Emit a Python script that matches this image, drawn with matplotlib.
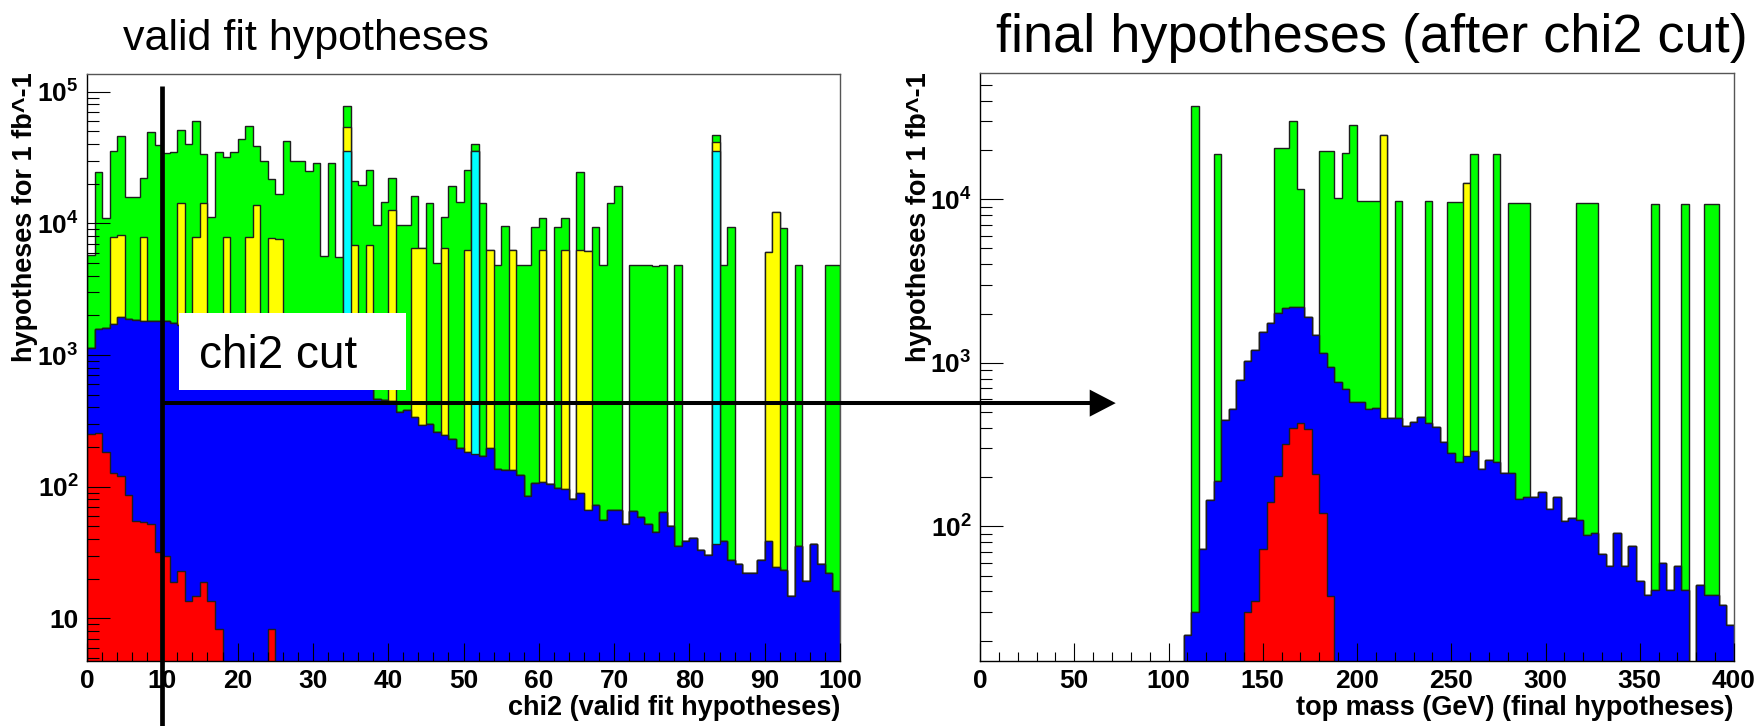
import numpy as np
import matplotlib
matplotlib.use("Agg")
import matplotlib.pyplot as plt
from matplotlib.ticker import (FixedLocator, FixedFormatter, LogLocator,
                               NullFormatter, MultipleLocator)
from matplotlib.patches import Rectangle, Polygon
from matplotlib.lines import Line2D
from matplotlib.transforms import blended_transform_factory

plt.rcParams.update({
    "font.family": ["Liberation Sans", "DejaVu Sans"],
    "font.weight": "bold",
    "mathtext.fontset": "custom",
    "mathtext.rm": "Liberation Sans:bold",
    "mathtext.it": "Liberation Sans:bold",
    "mathtext.bf": "Liberation Sans:bold",
})

# ---------------- chi2 of the valid fit hypotheses (bins of width 1) ----------------
chi2_edges = np.linspace(0, 100, 101)

# sparse contents are given as {bin lower edge: content}
chi2_red = {0: 250, 1: 255, 2: 184, 3: 128, 4: 120, 5: 86, 6: 55, 7: 54, 8: 52,
            9: 32, 10: 30, 11: 19, 12: 23, 13: 13.6, 14: 14.7, 15: 19, 16: 13.6,
            17: 8.3, 24: 8.3}

chi2_blue = [890, 1315, 1426, 1582, 1840, 1804, 1785, 1766, 1748, 1788,
             1770, 1721, 1677, 1606, 1545, 1481, 1436, 1382, 1330, 1280,
             1230, 1180, 1130, 1080, 1032, 1000, 960, 920, 880, 840,
             800, 770, 730, 700, 670, 640, 610, 580, 460, 455,
             450, 370, 385, 337, 296, 300, 262, 247, 230, 197,
             182, 176, 171, 195, 137, 135, 135, 122, 85, 106,
             108, 104, 97, 96, 81, 89, 67, 73, 56, 67,
             67, 52, 65, 59, 52, 45, 64, 50, 35.5, 38.5,
             41, 33, 30.5, 37, 38.7, 27.6, 26, 21.9, 21.9, 27.6,
             39, 24.6, 23.2, 14.8, 35.5, 19.1, 37, 26, 21.9, 16.1]

chi2_cyan = {34: 35000, 51: 35100, 83: 35300}

chi2_yellow = {3: 6190, 4: 6140, 7: 6080, 12: 12600, 14: 6340, 15: 12800,
               18: 6570, 21: 6720, 22: 12770, 24: 6660, 25: 6600, 34: 18300,
               35: 6260, 37: 6220, 40: 12250, 43: 6120, 44: 6160, 47: 6210,
               50: 6120, 53: 6105, 56: 6165, 60: 6190, 63: 6200, 65: 6210,
               66: 6130, 83: 5800, 90: 6060, 91: 12075}

chi2_green = [4660, 22830, 9290, 27800, 37900, 13910, 13960, 14100, 47500, 37480,
              32400, 33060, 37100, 38180, 52400, 19200, 9750, 33310, 24100, 33420,
              42770, 46700, 24600, 28520, 13900, 9000, 41240, 28680, 28720, 24160,
              27800, 4900, 27870, 4820, 23800, 13900, 18890, 18600, 9340, 14045,
              9600, 9424, 9410, 9540, 0, 14000, 4705, 4740, 18970, 14300,
              19100, 5000, 14130, 0, 4700, 9460, 0, 4720, 4715, 9250,
              4600, 0, 9260, 4600, 0, 18300, 0, 9290, 4744, 14230,
              19030, 0, 4735, 4740, 4740, 4740, 4740, 0, 4765, 0,
              0, 0, 0, 5500, 4760, 9370, 0, 0, 0, 0,
              0, 0, 9277, 0, 4765, 0, 0, 0, 4778, 4784]

# ---------------- top mass of the final hypotheses (bins of 4 GeV) ----------------
mass_edges = np.linspace(0, 400, 101)

mass_red = {140: 30, 144: 35, 148: 73, 152: 140, 156: 204, 160: 319, 164: 401,
            168: 430, 172: 396, 176: 209, 180: 120, 184: 37.5}

mass_blue = [0, 0, 0, 0, 0, 0, 0, 0, 0, 0,
             0, 0, 0, 0, 0, 0, 0, 0, 0, 0,
             0, 0, 0, 0, 0, 0, 0, 21.6, 30, 73,
             144, 190, 447, 520, 785, 1000, 1165, 1477, 1600, 1806,
             1831, 1779, 1770, 1514, 1271, 1020, 908, 767, 690, 578,
             578, 522, 527, 462, 462, 458, 413, 437, 464, 427,
             407, 329, 279, 246, 269, 289, 224, 254, 246, 211,
             211, 147, 152, 152, 163, 128, 152, 108, 112, 109,
             88, 91, 68, 57, 91, 57, 76, 46, 38, 41,
             60, 41, 57, 41, 0, 44, 38, 38, 33, 25]

mass_yellow = {212: 24140, 256: 12230}

mass_green = {112: 37170, 124: 18610, 156: 18690, 160: 18550, 164: 27920,
              168: 9300, 180: 18560, 184: 18750, 188: 9430, 192: 18610,
              196: 27820, 200: 9190, 204: 9250, 208: 9240, 220: 9310,
              236: 9340, 248: 9320, 252: 9350, 260: 18510, 272: 18550,
              280: 9230, 284: 9290, 288: 9290, 316: 9330, 320: 9350,
              324: 9350, 356: 9260, 372: 9260, 384: 9260, 388: 9260}

RED, BLUE, CYAN, YELLOW, GREEN = "#ff0000", "#0000ff", "#00ffff", "#ffff00", "#00ff00"
EDGE = "#1e1e1e"


def to_bins(content, edges):
    if isinstance(content, dict):
        out = np.zeros(len(edges) - 1)
        for low, val in content.items():
            out[np.searchsorted(edges, low, side="right") - 1] = val
        return out
    return np.asarray(content, dtype=float)


def draw_stack(ax, edges, layers, floor):
    """Draw a stacked histogram the ROOT way: cumulative sums, topmost first."""
    parts = np.vstack([to_bins(vals, edges) for vals, _ in layers])
    tops = np.cumsum(parts, axis=0)
    for level in range(len(layers) - 1, -1, -1):
        top = np.where(tops[level] > 0, tops[level], floor)
        ax.stairs(top, edges, baseline=floor, fill=True,
                  facecolor=layers[level][1], edgecolor=EDGE, linewidth=1.0)


def style_axes(ax, xmajor, xminor, yticks, ylabels):
    ax.set_axisbelow(False)
    ax.xaxis.set_major_locator(MultipleLocator(xmajor))
    ax.xaxis.set_minor_locator(MultipleLocator(xminor))
    ax.yaxis.set_major_locator(FixedLocator(yticks))
    ax.yaxis.set_major_formatter(FixedFormatter(ylabels))
    ax.yaxis.set_minor_locator(LogLocator(base=10, subs=np.arange(2, 10), numticks=30))
    ax.yaxis.set_minor_formatter(NullFormatter())
    ax.tick_params(axis="x", which="major", direction="in", length=13, width=0.8,
                   pad=6, labelsize=19, top=False)
    ax.tick_params(axis="x", which="minor", direction="in", length=6.5, width=0.8, top=False)
    ax.tick_params(axis="y", which="major", direction="in", length=16.5, width=0.8,
                   pad=6, labelsize=19, right=False)
    ax.tick_params(axis="y", which="minor", direction="in", length=8.6, width=0.8, right=False)
    for side in ("left", "bottom"):
        ax.spines[side].set_color("black")
        ax.spines[side].set_linewidth(1.0)
    for side in ("top", "right"):
        ax.spines[side].set_color("#555555")
        ax.spines[side].set_linewidth(1.0)


fig = plt.figure(figsize=(17.59, 7.26), dpi=100)
fig.patch.set_facecolor("white")

W, H = 1759.0, 726.0
axL = fig.add_axes([87 / W, 65 / H, 753 / W, 587 / H])
axR = fig.add_axes([980 / W, 65 / H, 754 / W, 588 / H])

for ax in (axL, axR):
    ax.set_yscale("log")

# left panel: chi2
axL.set_xlim(0, 100)
axL.set_ylim(4.74, 1.363e5)
draw_stack(axL, chi2_edges,
           [(chi2_red, RED), (chi2_blue, BLUE), (chi2_cyan, CYAN),
            (chi2_yellow, YELLOW), (chi2_green, GREEN)], floor=1.0)
style_axes(axL, 10, 2, [10, 1e2, 1e3, 1e4, 1e5],
           ["10", r"$10^{2}$", r"$10^{3}$", r"$10^{4}$", r"$10^{5}$"])

# right panel: top mass
axR.set_xlim(0, 400)
axR.set_ylim(15.0, 5.92e4)
draw_stack(axR, mass_edges,
           [(mass_red, RED), (mass_blue, BLUE),
            (mass_yellow, YELLOW), (mass_green, GREEN)], floor=1.0)
style_axes(axR, 50, 10, [1e2, 1e3, 1e4],
           [r"$10^{2}$", r"$10^{3}$", r"$10^{4}$"])

# axis titles
axL.text(1.0, -0.058, "chi2 (valid fit hypotheses)", transform=axL.transAxes,
         ha="right", va="top", fontsize=19.5, fontweight="bold")
axR.text(1.0, -0.058, "top mass (GeV) (final hypotheses)", transform=axR.transAxes,
         ha="right", va="top", fontsize=19.5, fontweight="bold")
fig.text(25 / W, 1 - 72 / H, "hypotheses for 1 fb^-1", rotation=90,
         ha="center", va="top", fontsize=19.5, fontweight="bold")
fig.text(919 / W, 1 - 72 / H, "hypotheses for 1 fb^-1", rotation=90,
         ha="center", va="top", fontsize=19.5, fontweight="bold")

# panel headings
fig.text(123 / W, 1 - 50 / H, "valid fit hypotheses", ha="left", va="baseline",
         fontsize=31, fontweight="normal")
fig.text(996 / W, 1 - 52 / H, "final hypotheses (after chi2 cut)", ha="left",
         va="baseline", fontsize=39, fontweight="normal")

# "chi2 cut" label box
axL.add_patch(Rectangle((0.1222, 0.4617), 0.3014, 0.1311, transform=axL.transAxes,
                        facecolor="white", edgecolor="none", zorder=5))
axL.text(0.1487, 0.499, "chi2 cut", transform=axL.transAxes, ha="left",
         va="baseline", fontsize=33, fontweight="normal", zorder=6)

# cut marker: vertical line at chi2 = 10 and arrow to the final selection
chi2_cut = 10
cut_level = 431
vline = Line2D([chi2_cut, chi2_cut], [1 - 86 / H, 0.0], color="black", lw=3.4,
               transform=blended_transform_factory(axL.transData, fig.transFigure),
               zorder=20, solid_capstyle="butt")
fig.add_artist(vline)

to_fig = fig.transFigure.inverted()
x_start, y_arrow = to_fig.transform(axL.transData.transform((chi2_cut, cut_level)))
x_tip = to_fig.transform(axR.transData.transform((72, 100)))[0]
head_len = 26 / W
half_h = 13.5 / H
fig.add_artist(Line2D([x_start, x_tip - head_len + 2 / W], [y_arrow, y_arrow],
                      color="black", lw=2.9, transform=fig.transFigure, zorder=20,
                      solid_capstyle="butt"))
fig.add_artist(Polygon([[x_tip - head_len, y_arrow + half_h], [x_tip, y_arrow],
                        [x_tip - head_len, y_arrow - half_h]], closed=True,
                       facecolor="black", edgecolor="none",
                       transform=fig.transFigure, zorder=21))

fig.savefig("out.png", dpi=100, facecolor="white")
